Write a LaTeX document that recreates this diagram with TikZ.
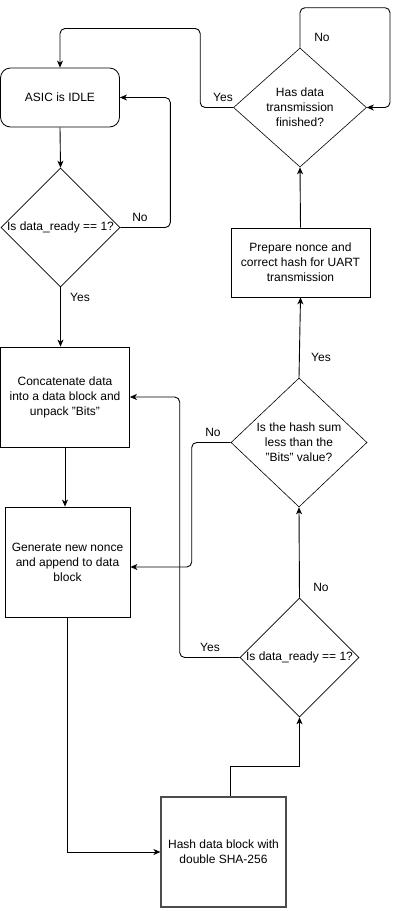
\documentclass[tikz,border=0pt]{standalone}
\usepackage{fontspec}
\setmainfont{Liberation Sans}
\usetikzlibrary{shapes.geometric,positioning,calc,arrows.meta}

\begin{document}
\begin{tikzpicture}[x=1pt, y=-1pt, font=\fontsize{12}{15}\selectfont,
    stepbox/.style={draw, line width=0.8pt, align=center, inner sep=2pt},
    decision/.style={draw, diamond, line width=0.6pt, align=center, inner sep=-2pt},
    flow/.style={line width=0.9pt, rounded corners=5pt},
    arr/.style={flow, -{Stealth[length=7pt, width=6pt, inset=2pt]}}]
  % canvas (pixel coordinates, y grows downwards)
  \useasboundingbox (0,0) rectangle (400,911);

  % left column
  \node[stepbox, rounded corners=10pt, minimum width=119, minimum height=59] (idle) at (60,97.5) {ASIC is IDLE};
  \node[decision, minimum width=119, minimum height=119] (readyA) at (60.5,227.5) {Is data\_ready == 1?};
  \node[stepbox, minimum width=129, minimum height=100] (concat) at (65,397) {Concatenate data\\into a data block and\\unpack "Bits"};
  \node[stepbox, minimum width=125, minimum height=110] (nonce) at (67.5,562) {Generate new nonce\\and append to data\\block};

  % bottom / right column
  \node[stepbox, draw=black!70, line width=1.2pt, minimum width=125, minimum height=110] (hash) at (223.5,852) {Hash data block with\\double SHA-256};
  \node[decision, minimum width=119, minimum height=119] (readyB) at (299.5,657.5) {Is data\_ready == 1?};
  \node[decision, minimum width=136, minimum height=129] (check) at (299,442.5) {Is the hash sum\\less than the\\"Bits" value?};
  \node[stepbox, minimum width=139, minimum height=69] (prep) at (300.5,262.5) {Prepare nonce and\\correct hash for UART\\transmission};
  \node[decision, minimum width=133, minimum height=119] (sent) at (300,107.5) {Has data\\transmission\\finished?};

  % branch labels
  \node (noA) at (140,217) {No};
  \node (yesA) at (80,297) {Yes};
  \node (yesB) at (210,647) {Yes};
  \node (noB) at (321,587) {No};
  \node (noC) at (213,432) {No};
  \node (yesC) at (321,357) {Yes};
  \node (yesD) at (223,97) {Yes};
  \node (noD) at (322,37) {No};

  % main flow
  \draw[arr] (idle.south) -- (readyA.north);
  \draw[arr] (readyA.east) -- ++(50,0) |- (idle.east);
  \draw[arr] (readyA.south) -- (readyA.south |- concat.north);
  \draw[arr] (concat.south) -- (concat.south |- nonce.north);
  \draw[arr, sharp corners] (nonce.south) |- (hash.west);
  \draw[arr, sharp corners] ([xshift=7pt]hash.north) -- ++(0,-30) -| (readyB.south);
  \draw[arr] (readyB.west) -- ++(-60,0) |- (concat.east);
  \draw[arr] (readyB.north) -- (check.south);
  \draw[arr] (check.west) -- ++(-39,0) |- ($(nonce.east)+(0,5)$);
  \draw[arr] (check.north) -- (prep.south);
  \draw[arr] (prep.north) -- (sent.south);

  % transmission loop and return to idle
  \draw[arr] (sent.north) -- ++(0,-40) -- ++(90,0) |- (sent.east);
  \draw[arr] (sent.west) -- ++(-33,0) -- ++(0,-79) -| (idle.north);
\end{tikzpicture}
\end{document}
